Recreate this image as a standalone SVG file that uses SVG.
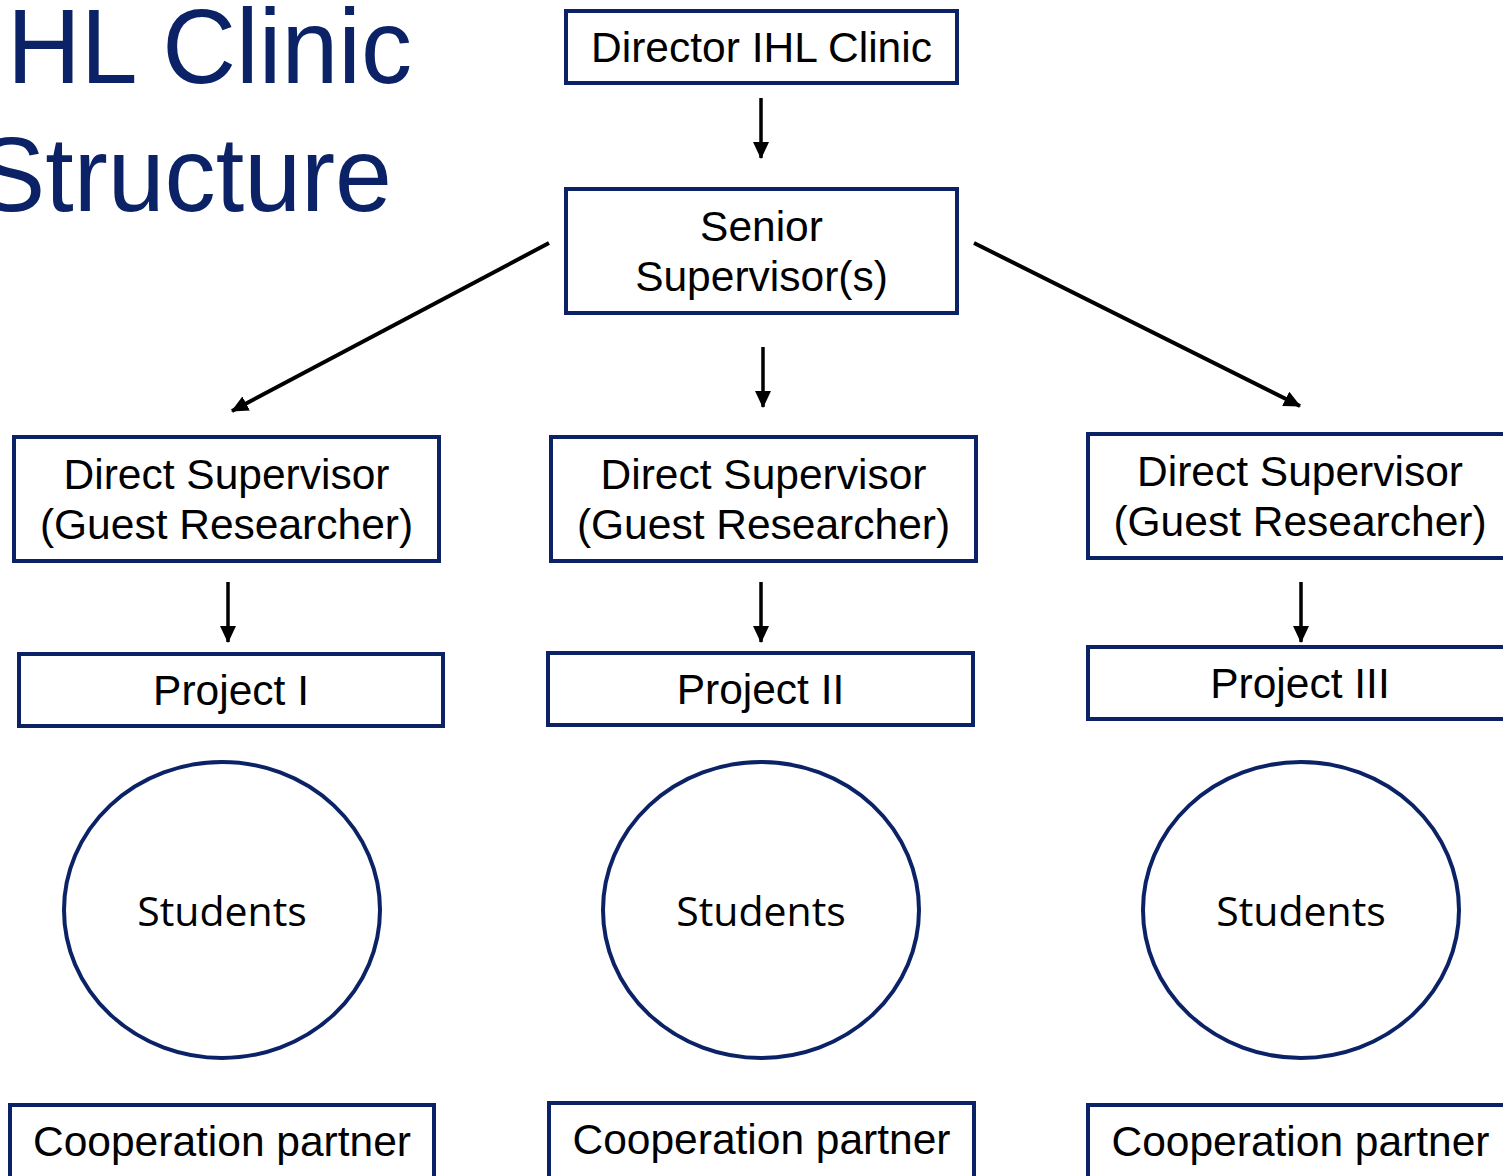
<svg xmlns="http://www.w3.org/2000/svg" width="1503" height="1176" viewBox="0 0 1503 1176">
<style>
.box{fill:#fff;stroke:#0b2266;stroke-width:4}
.lbl{font-family:"Liberation Sans",Arial,sans-serif;font-size:42.5px;fill:#000;text-anchor:middle}
.stu{font-family:"Open Sans","Noto Sans",sans-serif;font-size:41px;fill:#000;text-anchor:middle}
.title{font-family:"Liberation Sans",Arial,sans-serif;font-size:106px;fill:#0b2266}
.conn{stroke:#000;stroke-width:3.5;fill:none;marker-end:url(#ah)}
.diag{stroke-width:4}
</style>
<defs>
<marker id="ah" markerUnits="userSpaceOnUse" markerWidth="18" markerHeight="16" refX="16" refY="8" orient="auto">
<path d="M0,0 L17,8 L0,16 Z" fill="#000"/>
</marker>
</defs>
<rect width="1503" height="1176" fill="#fff"/>
<g id="title">
<text class="title" x="7" y="83" textLength="405" lengthAdjust="spacingAndGlyphs">HL Clinic</text>
<text class="title" x="-23" y="211" textLength="415" lengthAdjust="spacingAndGlyphs">Structure</text>
</g>
<g id="connectors">
<line class="conn" x1="761" y1="98" x2="761" y2="158"/>
<line class="conn diag" x1="549" y1="243" x2="232" y2="411"/>
<line class="conn" x1="763" y1="347" x2="763" y2="407"/>
<line class="conn diag" x1="974" y1="243" x2="1300" y2="406"/>
<line class="conn" x1="228" y1="582" x2="228" y2="642"/>
<line class="conn" x1="761" y1="582" x2="761" y2="642"/>
<line class="conn" x1="1301" y1="582" x2="1301" y2="642"/>
</g>
<g id="director">
<rect class="box" x="566" y="11" width="391" height="72"/>
<text class="lbl" x="761.5" y="62">Director IHL Clinic</text>
</g>
<g id="senior">
<rect class="box" x="566" y="189" width="391" height="124"/>
<text class="lbl" x="761.5" y="241">Senior</text>
<text class="lbl" x="761.5" y="291">Supervisor(s)</text>
</g>
<g id="direct1">
<rect class="box" x="14" y="437" width="425" height="124"/>
<text class="lbl" x="226.5" y="489">Direct Supervisor</text>
<text class="lbl" x="226.5" y="539">(Guest Researcher)</text>
</g>
<g id="direct2">
<rect class="box" x="551" y="437" width="425" height="124"/>
<text class="lbl" x="763.5" y="489">Direct Supervisor</text>
<text class="lbl" x="763.5" y="539">(Guest Researcher)</text>
</g>
<g id="direct3">
<rect class="box" x="1088" y="434" width="425" height="124"/>
<text class="lbl" x="1300" y="486">Direct Supervisor</text>
<text class="lbl" x="1300" y="536">(Guest Researcher)</text>
</g>
<g id="project1">
<rect class="box" x="19" y="654" width="424" height="72"/>
<text class="lbl" x="231" y="705">Project I</text>
</g>
<g id="project2">
<rect class="box" x="548" y="653" width="425" height="72"/>
<text class="lbl" x="760.5" y="704">Project II</text>
</g>
<g id="project3">
<rect class="box" x="1088" y="647" width="425" height="72"/>
<text class="lbl" x="1300" y="698">Project III</text>
</g>
<g id="students1">
<ellipse class="box" cx="222" cy="910" rx="158" ry="148"/>
<text class="stu" x="222" y="926">Students</text>
</g>
<g id="students2">
<ellipse class="box" cx="761" cy="910" rx="158" ry="148"/>
<text class="stu" x="761" y="926">Students</text>
</g>
<g id="students3">
<ellipse class="box" cx="1301" cy="910" rx="158" ry="148"/>
<text class="stu" x="1301" y="926">Students</text>
</g>
<g id="coop1">
<rect class="box" x="10" y="1105" width="424" height="80"/>
<text class="lbl" x="222" y="1156">Cooperation partner</text>
</g>
<g id="coop2">
<rect class="box" x="549" y="1103" width="425" height="80"/>
<text class="lbl" x="761.5" y="1154">Cooperation partner</text>
</g>
<g id="coop3">
<rect class="box" x="1088" y="1105" width="425" height="80"/>
<text class="lbl" x="1300.5" y="1156">Cooperation partner</text>
</g>
</svg>
